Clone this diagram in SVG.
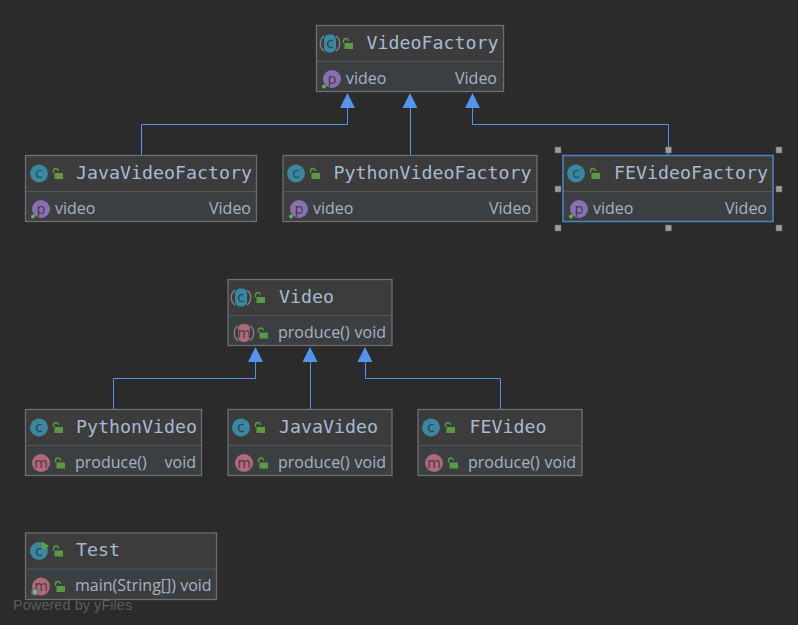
<svg xmlns="http://www.w3.org/2000/svg" width="798" height="625" viewBox="0 0 798 625">
<style>
.hd{fill:#3c3c3c}
.bd{fill:#3c3f41}
.fr{fill:none;stroke:#6c6e6f;stroke-width:1.3}
.sel{fill:none;stroke:#4b82bd;stroke-width:1.6}
.dv{stroke:#555;stroke-width:1}
.t{font-family:"DejaVu Sans Mono",monospace;font-size:18.3px;fill:#a4bbd2}
.b{font-family:"Open Sans","Noto Sans",sans-serif;font-size:16px;fill:#a4b3c2}
.e{text-anchor:end}
.ic{font-family:"DejaVu Sans",sans-serif;font-size:14px;text-anchor:middle;fill:#2b2b2b;fill-opacity:.75}
.cn{fill:none;stroke:#5394ec;stroke-width:1}
.ah{fill:#5394ec}
.hn{fill:#9c9c9c;stroke:#666;stroke-width:.5}
.pw{font-family:"Liberation Sans",Arial,sans-serif;font-size:14.6px;fill:#5c5c5c}
</style>
<defs>
<g id="c"><circle r="9" fill="#3a87a1"/><text class="ic" y="4.500">c</text></g>
<g id="p"><circle r="9" fill="#8a70b2"/><text class="ic" y="4.500">p</text></g>
<g id="m"><circle r="9" fill="#b0697a"/><text class="ic" y="4.500">m</text></g>
<g id="cr"><path d="M-6 -7.500a9.500 9.500 0 0 0 0 15M6 -7.500a9.500 9.500 0 0 1 0 15" fill="none" stroke="#808080" stroke-width="1.400"/><rect x="-6" y="-9" width="12" height="18" rx="5" fill="#3a87a1"/><text class="ic" y="4.500">c</text></g>
<g id="mr"><path d="M-6 -7.500a9.500 9.500 0 0 0 0 15M6 -7.500a9.500 9.500 0 0 1 0 15" fill="none" stroke="#808080" stroke-width="1.400"/><rect x="-6" y="-9" width="12" height="18" rx="5" fill="#b0697a"/><text class="ic" y="4.500">m</text></g>
<g id="lock"><path d="M-4.500 -0.500v-2a2.500 2.500 0 0 1 5 0" fill="none" stroke="#5b9a41" stroke-width="1.300"/><rect x="-3.500" y="-0.500" width="8.500" height="6" fill="#5b9a41"/></g>
<path id="tri" d="M0 0l-7.500 15h15z"/>
</defs>
<rect width="798" height="625" fill="#2b2b2b"/>

<g id="connectors">
<path class="cn" d="M141.500 155V124.500H347.500V107"/>
<path class="cn" d="M410.500 155V107"/>
<path class="cn" d="M668.500 155V124.500H472.500V107"/>
<path class="cn" d="M113.500 409V378.500H255.500V361"/>
<path class="cn" d="M310.500 409V361"/>
<path class="cn" d="M500.500 409V378.500H365.500V361"/>
<use href="#tri" class="ah" x="347.500" y="93"/>
<use href="#tri" class="ah" x="410" y="93"/>
<use href="#tri" class="ah" x="472.500" y="93"/>
<use href="#tri" class="ah" x="255.500" y="347"/>
<use href="#tri" class="ah" x="310" y="347"/>
<use href="#tri" class="ah" x="365" y="347"/>
</g>

<g id="VideoFactory">
<rect class="hd" x="316.500" y="25.500" width="187" height="36"/><rect class="bd" x="316.500" y="61.500" width="187" height="30"/>
<line class="dv" x1="316.500" y1="61.500" x2="503.500" y2="61.500"/><rect class="fr" x="316.500" y="25.500" width="187" height="66"/>
<use href="#cr" x="330" y="43.500"/><use href="#lock" x="348" y="43.500"/>
<text class="t" x="366.500" y="49">VideoFactory</text>
<use href="#p" x="332" y="79"/><circle cx="324" cy="86.500" r="2" fill="#5fb83d"/>
<text class="b" x="346" y="84">video</text><text class="b e" x="497" y="84">Video</text>
</g>

<g id="JavaVideoFactory">
<rect class="hd" x="25.500" y="155.500" width="231" height="36"/><rect class="bd" x="25.500" y="191.500" width="231" height="30"/>
<line class="dv" x1="25.500" y1="191.500" x2="256.500" y2="191.500"/><rect class="fr" x="25.500" y="155.500" width="231" height="66"/>
<use href="#c" x="39" y="173.500"/><use href="#lock" x="58" y="173.500"/>
<text class="t" x="76" y="179">JavaVideoFactory</text>
<use href="#p" x="41" y="209"/><circle cx="33" cy="216.500" r="2" fill="#5fb83d"/>
<text class="b" x="55" y="214">video</text><text class="b e" x="251" y="214">Video</text>
</g>

<g id="PythonVideoFactory">
<rect class="hd" x="283" y="155.500" width="254" height="36"/><rect class="bd" x="283" y="191.500" width="254" height="30"/>
<line class="dv" x1="283" y1="191.500" x2="537" y2="191.500"/><rect class="fr" x="283" y="155.500" width="254" height="66"/>
<use href="#c" x="296" y="173.500"/><use href="#lock" x="315" y="173.500"/>
<text class="t" x="333.500" y="179">PythonVideoFactory</text>
<use href="#p" x="299" y="209"/><circle cx="291" cy="216.500" r="2" fill="#5fb83d"/>
<text class="b" x="313" y="214">video</text><text class="b e" x="531" y="214">Video</text>
</g>

<g id="FEVideoFactory">
<rect class="hd" x="563" y="155.500" width="210" height="36"/><rect class="bd" x="563" y="191.500" width="210" height="30"/>
<line class="dv" x1="563" y1="191.500" x2="773" y2="191.500"/><rect class="sel" x="563" y="155.500" width="210" height="66"/>
<use href="#c" x="576" y="173.500"/><use href="#lock" x="595" y="173.500"/>
<text class="t" x="614" y="179">FEVideoFactory</text>
<use href="#p" x="579" y="209"/><circle cx="571" cy="216.500" r="2" fill="#5fb83d"/>
<text class="b" x="593" y="214">video</text><text class="b e" x="767" y="214">Video</text>
<g id="handles">
<rect class="hn" x="555" y="147" width="6" height="6"/><rect class="hn" x="665.500" y="147" width="6" height="6"/><rect class="hn" x="776" y="147" width="6" height="6"/>
<rect class="hn" x="555" y="186" width="6" height="6"/><rect class="hn" x="776" y="186" width="6" height="6"/>
<rect class="hn" x="555" y="225" width="6" height="6"/><rect class="hn" x="665.500" y="225" width="6" height="6"/><rect class="hn" x="776" y="225" width="6" height="6"/>
</g>
</g>

<g id="Video">
<rect class="hd" x="228" y="279.500" width="164" height="36"/><rect class="bd" x="228" y="315.500" width="164" height="30"/>
<line class="dv" x1="228" y1="315.500" x2="392" y2="315.500"/><rect class="fr" x="228" y="279.500" width="164" height="66"/>
<use href="#cr" x="241" y="297.500"/><use href="#lock" x="260" y="297.500"/>
<text class="t" x="279" y="303">Video</text>
<use href="#mr" x="244" y="333"/><use href="#lock" x="263" y="333"/>
<text class="b" x="278" y="338">produce()</text><text class="b e" x="386" y="338">void</text>
</g>

<g id="PythonVideo">
<rect class="hd" x="25.500" y="409.500" width="176" height="36"/><rect class="bd" x="25.500" y="445.500" width="176" height="30"/>
<line class="dv" x1="25.500" y1="445.500" x2="201.500" y2="445.500"/><rect class="fr" x="25.500" y="409.500" width="176" height="66"/>
<use href="#c" x="39" y="427.500"/><use href="#lock" x="58" y="427.500"/>
<text class="t" x="76" y="433">PythonVideo</text>
<use href="#m" x="41" y="463"/><use href="#lock" x="60" y="463"/>
<text class="b" x="75" y="468">produce()</text><text class="b e" x="196" y="468">void</text>
</g>

<g id="JavaVideo">
<rect class="hd" x="228" y="409.500" width="164" height="36"/><rect class="bd" x="228" y="445.500" width="164" height="30"/>
<line class="dv" x1="228" y1="445.500" x2="392" y2="445.500"/><rect class="fr" x="228" y="409.500" width="164" height="66"/>
<use href="#c" x="241" y="427.500"/><use href="#lock" x="260" y="427.500"/>
<text class="t" x="279" y="433">JavaVideo</text>
<use href="#m" x="244" y="463"/><use href="#lock" x="263" y="463"/>
<text class="b" x="278" y="468">produce()</text><text class="b e" x="386" y="468">void</text>
</g>

<g id="FEVideo">
<rect class="hd" x="418" y="409.500" width="164" height="36"/><rect class="bd" x="418" y="445.500" width="164" height="30"/>
<line class="dv" x1="418" y1="445.500" x2="582" y2="445.500"/><rect class="fr" x="418" y="409.500" width="164" height="66"/>
<use href="#c" x="431" y="427.500"/><use href="#lock" x="450" y="427.500"/>
<text class="t" x="469.500" y="433">FEVideo</text>
<use href="#m" x="434" y="463"/><use href="#lock" x="453" y="463"/>
<text class="b" x="468" y="468">produce()</text><text class="b e" x="576" y="468">void</text>
</g>

<g id="Test">
<rect class="hd" x="25.500" y="533" width="191" height="36"/><rect class="bd" x="25.500" y="569" width="191" height="30.500"/>
<line class="dv" x1="25.500" y1="569" x2="216.500" y2="569"/><rect class="fr" x="25.500" y="533" width="191" height="66.500"/>
<use href="#c" x="39" y="551"/><path d="M42 541.500l7 4.500-7 4.500z" fill="#58a845"/><use href="#lock" x="58" y="551"/>
<text class="t" x="76" y="556">Test</text>
<use href="#m" x="41" y="586.500"/><use href="#lock" x="60" y="586.500"/>
<text class="b" x="75" y="591">main(String[]) void</text>
<circle cx="35" cy="592" r="3" fill="#9aa0a6" stroke="#6b7075" stroke-width="1.500"/>
</g>

<text class="pw" x="13" y="609.500">Powered by yFiles</text>
</svg>
